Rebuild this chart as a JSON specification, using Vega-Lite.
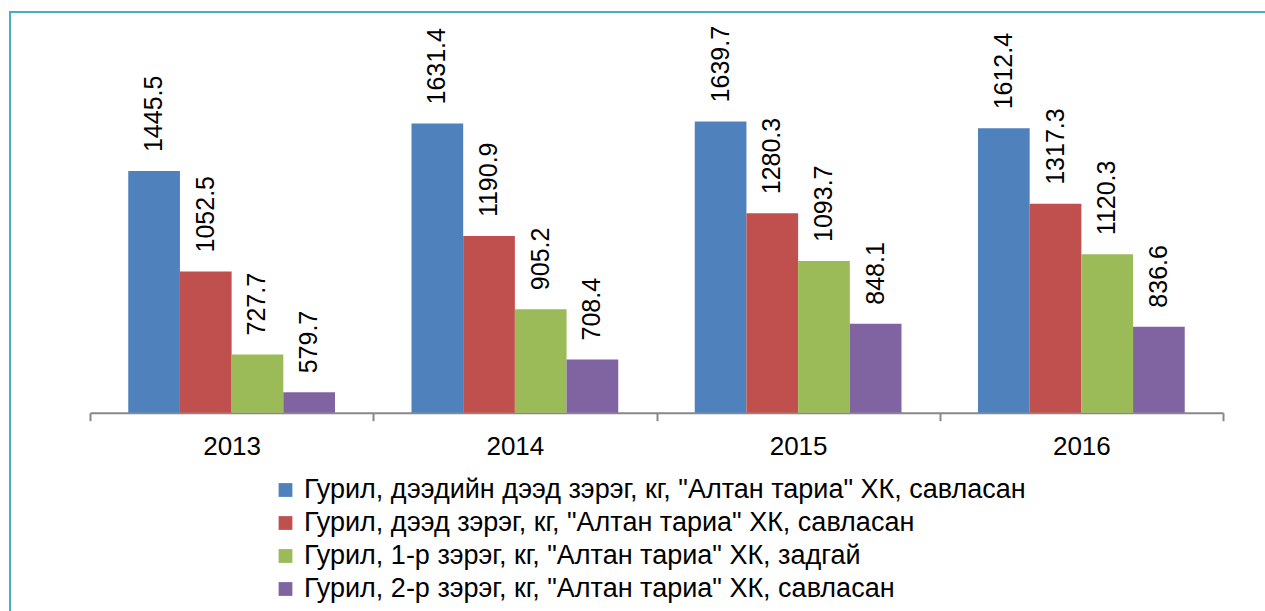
{
  "$schema": "https://vega.github.io/schema/vega-lite/v6.json",
  "autosize": {"type": "none"},
  "padding": {"left": 10, "top": 12, "right": 0, "bottom": 0},
  "width": 1260,
  "height": 605,
  "background": "white",
  "config": {"view": {"stroke": "#4BACC6", "strokeWidth": 2}, "font": "Liberation Sans"},
  "data": {"values": [
    {"year": "2013", "series": "Гурил, дээдийн дээд зэрэг, кг, \"Алтан тариа\" ХК, савласан", "value": 1445.5},
    {"year": "2013", "series": "Гурил, дээд зэрэг, кг, \"Алтан тариа\" ХК, савласан", "value": 1052.5},
    {"year": "2013", "series": "Гурил, 1-р зэрэг, кг, \"Алтан тариа\" ХК, задгай", "value": 727.7},
    {"year": "2013", "series": "Гурил, 2-р зэрэг, кг, \"Алтан тариа\" ХК, савласан", "value": 579.7},
    {"year": "2014", "series": "Гурил, дээдийн дээд зэрэг, кг, \"Алтан тариа\" ХК, савласан", "value": 1631.4},
    {"year": "2014", "series": "Гурил, дээд зэрэг, кг, \"Алтан тариа\" ХК, савласан", "value": 1190.9},
    {"year": "2014", "series": "Гурил, 1-р зэрэг, кг, \"Алтан тариа\" ХК, задгай", "value": 905.2},
    {"year": "2014", "series": "Гурил, 2-р зэрэг, кг, \"Алтан тариа\" ХК, савласан", "value": 708.4},
    {"year": "2015", "series": "Гурил, дээдийн дээд зэрэг, кг, \"Алтан тариа\" ХК, савласан", "value": 1639.7},
    {"year": "2015", "series": "Гурил, дээд зэрэг, кг, \"Алтан тариа\" ХК, савласан", "value": 1280.3},
    {"year": "2015", "series": "Гурил, 1-р зэрэг, кг, \"Алтан тариа\" ХК, задгай", "value": 1093.7},
    {"year": "2015", "series": "Гурил, 2-р зэрэг, кг, \"Алтан тариа\" ХК, савласан", "value": 848.1},
    {"year": "2016", "series": "Гурил, дээдийн дээд зэрэг, кг, \"Алтан тариа\" ХК, савласан", "value": 1612.4},
    {"year": "2016", "series": "Гурил, дээд зэрэг, кг, \"Алтан тариа\" ХК, савласан", "value": 1317.3},
    {"year": "2016", "series": "Гурил, 1-р зэрэг, кг, \"Алтан тариа\" ХК, задгай", "value": 1120.3},
    {"year": "2016", "series": "Гурил, 2-р зэрэг, кг, \"Алтан тариа\" ХК, савласан", "value": 836.6}
  ]},
  "encoding": {
    "x": {
      "field": "year", "type": "nominal",
      "scale": {"range": [80, 1213], "paddingInner": 0, "paddingOuter": 0},
      "axis": {"title": null, "labelAngle": 0, "labelFontSize": 26, "labelColor": "black", "labelPadding": 13, "tickSize": 8, "tickBand": "extent", "domainColor": "#888888", "tickColor": "#888888", "domainWidth": 2, "tickWidth": 2, "offset": -204.3}
    },
    "xOffset": {
      "field": "series", "type": "nominal",
      "sort": ["Гурил, дээдийн дээд зэрэг, кг, \"Алтан тариа\" ХК, савласан", "Гурил, дээд зэрэг, кг, \"Алтан тариа\" ХК, савласан", "Гурил, 1-р зэрэг, кг, \"Алтан тариа\" ХК, задгай", "Гурил, 2-р зэрэг, кг, \"Алтан тариа\" ХК, савласан"],
      "scale": {"paddingInner": 0, "paddingOuter": 0.74}
    },
    "y": {
      "field": "value", "type": "quantitative",
      "scale": {"domain": [500, 2000], "range": [400.7, 17.3], "zero": false, "nice": false},
      "axis": null
    }
  },
  "layer": [
    {
      "mark": {"type": "bar"},
      "encoding": {
        "y2": {"datum": 500},
        "color": {
          "field": "series", "type": "nominal",
          "scale": {
            "domain": ["Гурил, дээдийн дээд зэрэг, кг, \"Алтан тариа\" ХК, савласан", "Гурил, дээд зэрэг, кг, \"Алтан тариа\" ХК, савласан", "Гурил, 1-р зэрэг, кг, \"Алтан тариа\" ХК, задгай", "Гурил, 2-р зэрэг, кг, \"Алтан тариа\" ХК, савласан"],
            "range": ["#4F81BD", "#C0504D", "#9BBB59", "#8064A2"]
          },
          "legend": {"orient": "none", "legendX": 262, "legendY": 464.5, "title": null, "symbolType": "square", "symbolSize": 190, "symbolStrokeWidth": 0, "labelFontSize": 27, "labelColor": "black", "labelLimit": 1200, "labelOffset": 5, "rowPadding": 5, "padding": 0}
        }
      }
    },
    {
      "mark": {"type": "text", "angle": 270, "align": "left", "baseline": "middle", "dx": 19, "fontSize": 25, "color": "black"},
      "encoding": {"text": {"field": "value", "type": "quantitative", "format": ".1f"}}
    }
  ]
}
